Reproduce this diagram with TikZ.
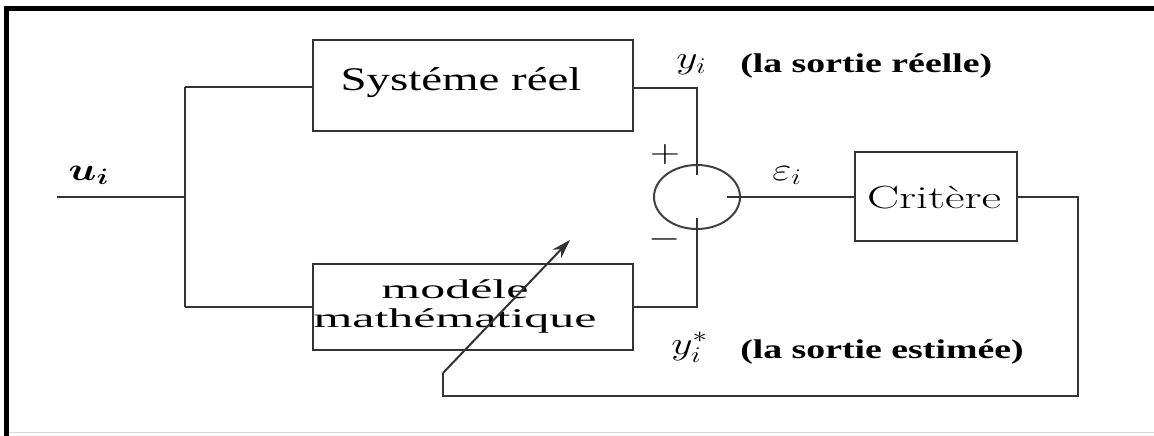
\documentclass[tikz,border=0pt]{standalone}
\usepackage{amsmath}
\usepackage{fontspec}
\newfontfamily\tnrfont{Liberation Serif}
\usetikzlibrary{shapes.geometric,arrows.meta}
\tikzset{
  blockbox/.style={draw=black!80, line width=2.2pt, inner sep=0pt},
  wire/.style={draw=black!80, line width=2pt},
  sumnode/.style={draw=black!75, line width=2pt, ellipse, inner sep=0pt, minimum width=86pt, minimum height=64pt},
  mathlbl/.style={inner sep=0pt, xscale=2.0, yscale=1.55, font=\fontsize{20}{24}\selectfont},
  boldlbl/.style={inner sep=0pt, xscale=1.4, font=\tnrfont\bfseries\fontsize{27}{32}\selectfont},
}
\begin{document}
\begin{tikzpicture}[x=1pt, y=-1pt]
\useasboundingbox (0,0) rectangle (1154,436);
% frame
\draw[line width=4.5pt, black] (6.5,436) -- (6.5,8.5) -- (1154,8.5);
\draw[line width=0.8pt, black!15] (9,432.5) -- (1154,432.5);

% blocks
\node[blockbox, minimum width=320pt, minimum height=91pt] (sys) at (473,85.5) {};
\node[inner sep=0pt, anchor=base, xscale=1.42, font=\tnrfont\fontsize{33}{36}\selectfont] (systxt) at (461,91) {Systéme réel};
\node[blockbox, minimum width=320pt, minimum height=86pt] (mod) at (473,307) {};
\node[inner sep=0pt, align=center, xscale=1.85, font=\tnrfont\fontsize{27}{29}\selectfont] (modtxt) at (455,306) {modéle\\mathématique};
\node[sumnode] (sum) at (697,197) {};
\node[blockbox, minimum width=162pt, minimum height=89pt] (crit) at (936,196.5) {};
\node[inner sep=0pt, anchor=base, xscale=1.5, font=\fontsize{32}{36}\selectfont] (crittxt) at (934,208) {Critère};

% coordinates
\coordinate (in) at (57,197);
\coordinate (split) at (185,197);
\coordinate (splittop) at (185,87);
\coordinate (splitbot) at (185,307);
\coordinate (sysout) at (697,88);
\coordinate (modout) at (697,307);
\coordinate (sumtopin) at (697,175);
\coordinate (sumbotin) at (697,218);
\coordinate (sumrightin) at (727,197);
\coordinate (fb1) at (1078,197);
\coordinate (fb2) at (1078,396);
\coordinate (fb3) at (443,396);
\coordinate (fb4) at (443,373);
\coordinate (tip) at (570,240);

% wires
\draw[wire] (in) -- (split);
\draw[wire] (splittop) -- (splitbot);
\draw[wire] (splittop) -- (sys.west |- splittop);
\draw[wire] (splitbot) -- (mod.west |- splitbot);
\draw[wire] (sys.east |- sysout) -- (sysout) -- (sumtopin);
\draw[wire] (mod.east |- modout) -- (modout) -- (sumbotin);
\draw[wire] (sumrightin) -- (crit.west |- sumrightin);
\draw[wire] (crit.east |- fb1) -- (fb1) -- (fb2) -- (fb3) -- (fb4);
\draw[wire, -{Stealth[length=19pt, width=12pt]}] (fb4) -- (tip);

% labels
\node[mathlbl, anchor=base west] (ulbl) at (68,180) {$\boldsymbol{u_i}$};
\node[mathlbl, anchor=base west] (ylbl) at (676,69) {$y_i$};
\node[boldlbl, anchor=base west] (reel) at (740,73) {(la sortie réelle)};
\node[mathlbl, anchor=base west] (yslbl) at (671,354) {$y_i^*$};
\node[boldlbl, anchor=base west] (est) at (740,358) {(la sortie estimée)};
\node[mathlbl, anchor=base west] (elbl) at (772,180) {$\varepsilon_i$};
\node[mathlbl] (plus) at (665,154) {$+$};
\node[mathlbl] (minus) at (665,239) {$-$};
\end{tikzpicture}
\end{document}
